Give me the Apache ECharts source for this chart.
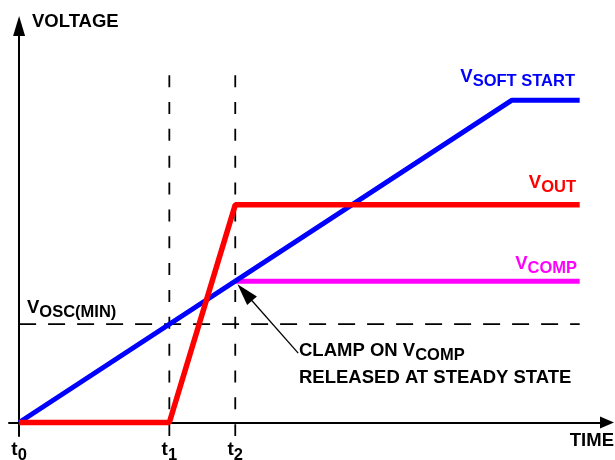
<!DOCTYPE html>
<html>
<head>
    <meta charset="utf-8"/>
    <title>Soft start</title>
    <style>
        html, body { margin: 0; padding: 0; background: #fff; }
    </style>
</head>
<body>
<div id="main" style="width: 615px;height:460px;"></div>
</body>
<script src="https://cdn.jsdelivr.net/npm/echarts@6/dist/echarts.min.js"></script>
<script>
    // time marks t0, t1, t2 (arbitrary units)
    var tickNames = ['0', '1', '2'];
    var tickTimes = [0, 25.3, 36.4];

    // V SOFT START: ramp then flat
    var softX = [0, 83, 94.4];
    var softY = [0, 81.3, 81.3];
    // V OUT
    var outX = [0, 25.3, 36.4, 94.4];
    var outY = [0, 0, 54.9, 54.9];
    // V COMP (released at t2)
    var compX = [36.4, 94.4];
    var compY = [35.6, 35.6];
    // V OSC(MIN) level, top of the dashed time marks, tick depth below the axis
    var oscMin = 24.8;
    var markTop = 87.6;
    var markBottom = -3.4;
    // callout arrow: from text to the clamp point
    var calloutFrom = [47, 17.5];
    var calloutTo = [38.0, 32.8];

    var FONT = '"Liberation Sans", Arial, sans-serif';

    function pairs(xs, ys) {
        var out = [];
        for (var i = 0; i < xs.length; i++) out.push([xs[i], ys[i]]);
        return out;
    }

    function subLabel(x, y, main, sub, color, align, size) {
        size = size || 18.5;
        return {
            type: 'text', x: x, y: y,
            style: {
                text: '{v|' + main + '}{s|' + sub + '}', align: align, verticalAlign: 'top',
                rich: {
                    v: {fontSize: size, fontWeight: 'bold', fontFamily: FONT, fill: color, lineHeight: 26},
                    s: {fontSize: size - 2, fontWeight: 'bold', fontFamily: FONT, fill: color, verticalAlign: 'bottom'}
                }
            }
        };
    }

    var myChart = echarts.init(document.getElementById('main'));

    var option = {
        animation: false,
        grid: {left: 9, right: 8, top: 26, bottom: 24, outerBoundsMode: 'none', containLabel: false},
        xAxis: {
            type: 'value',
            min: -1.7,
            max: 99,
            splitLine: {show: false},
            axisLine: {
                onZero: true,
                symbol: ['none', 'triangle'],
                symbolSize: [12, 14],
                lineStyle: {color: '#000', width: 2}
            },
            axisTick: {show: false},
            axisLabel: {
                customValues: tickTimes,
                margin: 4,
                formatter: function (v) {
                    var best = 0;
                    for (var i = 0; i < tickTimes.length; i++) {
                        if (Math.abs(tickTimes[i] - v) < Math.abs(tickTimes[best] - v)) best = i;
                    }
                    return '{t|t}{s|' + tickNames[best] + '}';
                },
                rich: {
                    t: {fontSize: 19, fontWeight: 'bold', fontFamily: FONT, color: '#000', lineHeight: 24, verticalAlign: 'top'},
                    s: {fontSize: 16.5, fontWeight: 'bold', fontFamily: FONT, color: '#000', verticalAlign: 'bottom'}
                }
            }
        },
        yAxis: {
            type: 'value',
            min: markBottom,
            max: 100,
            splitLine: {show: false},
            axisLine: {
                onZero: true,
                symbol: ['none', 'triangle'],
                symbolSize: [12, 20],
                lineStyle: {color: '#000', width: 2}
            },
            axisTick: {show: false},
            axisLabel: {show: false}
        },
        graphic: [
            {
                type: 'text', x: 32, y: 21.5,
                style: {text: 'VOLTAGE', font: 'bold 18.5px ' + FONT, fill: '#000', verticalAlign: 'middle'}
            },
            {
                type: 'text', x: 614, y: 441,
                style: {text: 'TIME', font: 'bold 18.5px ' + FONT, fill: '#000', align: 'right', verticalAlign: 'middle'}
            },
            subLabel(575, 64, 'V', 'SOFT START', '#0000ff', 'right'),
            subLabel(576, 169.5, 'V', 'OUT', '#ff0000', 'right'),
            subLabel(577, 250.5, 'V', 'COMP', '#ff00ff', 'right'),
            subLabel(27, 294.5, 'V', 'OSC(MIN)', '#000', 'left'),
            subLabel(299, 338, 'CLAMP ON V', 'COMP', '#000', 'left', 18.5),
            {
                type: 'text', x: 299, y: 378,
                style: {text: 'RELEASED AT STEADY STATE', font: 'bold 18.5px ' + FONT, fill: '#000', verticalAlign: 'middle'}
            }
        ],
        series: [
            {
                name: 't1 mark', type: 'line', silent: true, symbol: 'none',
                data: [[tickTimes[1], markTop], [tickTimes[1], markBottom]],
                lineStyle: {color: '#000', width: 1.8, type: [12, 14.85]}
            },
            {
                name: 't2 mark', type: 'line', silent: true, symbol: 'none',
                data: [[tickTimes[2], markTop], [tickTimes[2], markBottom]],
                lineStyle: {color: '#000', width: 1.8, type: [12, 14.85]}
            },
            {
                name: 'VOSC(MIN)', type: 'line', silent: true, symbol: 'none',
                data: [[0, oscMin], [compX[1], oscMin]],
                lineStyle: {color: '#000', width: 1.8, type: [17, 12]}
            },
            {
                name: 'VCOMP', type: 'line', silent: true, symbol: 'none',
                data: pairs(compX, compY),
                lineStyle: {color: '#ff00ff', width: 5},
                markLine: {
                    silent: true,
                    label: {show: false},
                    lineStyle: {color: '#000', width: 1.3, type: 'solid'},
                    data: [[
                        {coord: calloutFrom, symbol: 'none'},
                        {coord: calloutTo, symbol: 'triangle', symbolSize: [13, 22]}
                    ]]
                }
            },
            {
                name: 'VSOFT START', type: 'line', silent: true, symbol: 'none',
                data: pairs(softX, softY),
                lineStyle: {color: '#0000ff', width: 5}
            },
            {
                name: 'VOUT', type: 'line', silent: true, symbol: 'none',
                data: pairs(outX, outY),
                lineStyle: {color: '#ff0000', width: 5.5}
            }
        ]
    };

    myChart.setOption(option);
</script>
</html>
